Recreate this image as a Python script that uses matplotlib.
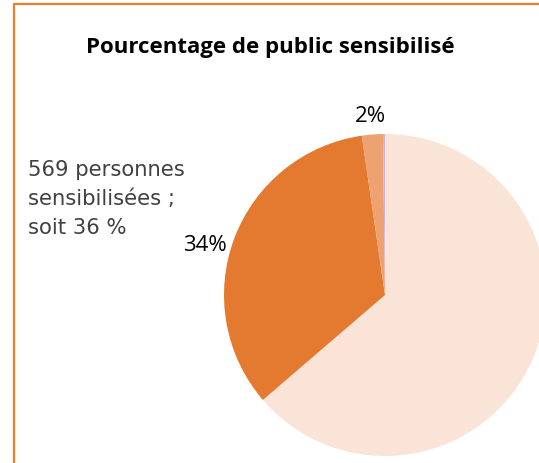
import matplotlib
matplotlib.use("Agg")
import matplotlib.pyplot as plt
from matplotlib.patches import Rectangle

# part du public sensibilisé (%)
categories = ["non sensibilisé", "groupe A", "groupe B", "autre"]
valeurs = [63.7, 34.0, 2.1, 0.2]
etiquettes = ["", "34%", "2%", ""]
couleurs = ["#FAE4D7", "#E47A30", "#EFA271", "#C9B3DC"]

W, H = 539, 463
fig = plt.figure(figsize=(W / 100, H / 100), dpi=100)
ax = fig.add_axes([0, 0, 1, 1])

# cadre orange (haut + gauche visibles)
fig.patches.append(Rectangle((13.5 / W, -0.1), 1.2, (H - 4) / H + 0.1,
                             transform=fig.transFigure, fill=False,
                             edgecolor="#ED7D31", linewidth=1.6))

wedges, texts = ax.pie(valeurs, colors=couleurs, labels=etiquettes,
                       startangle=90, counterclock=False,
                       center=(385, H - 295), radius=161,
                       labeldistance=1.14, frame=True,
                       textprops=dict(fontsize=16, family="Open Sans", color="black"),
                       wedgeprops=dict(linewidth=0))
ax.set_xlim(0, W)
ax.set_ylim(0, H)
ax.set_aspect("equal")
ax.axis("off")
for t in texts:
    t.set_ha("center")
    t.set_va("center")
# décalage de l'étiquette 34% comme dans Excel
x0, y0 = texts[1].get_position()
texts[1].set_position((x0 - 8, y0 - 15))
x0, y0 = texts[2].get_position()
texts[2].set_position((x0, y0 - 4))

ax.text(270, H - 47, "Pourcentage de public sensibilisé",
        ha="center", va="center", fontsize=16, fontweight="bold", family="Open Sans")

ax.text(28, H - 199, "569 personnes\nsensibilisées ;\nsoit 36 %",
        ha="left", va="center", fontsize=15.2, color="#404040",
        family="DejaVu Sans", linespacing=1.55)

fig.savefig("out.png", dpi=100)
